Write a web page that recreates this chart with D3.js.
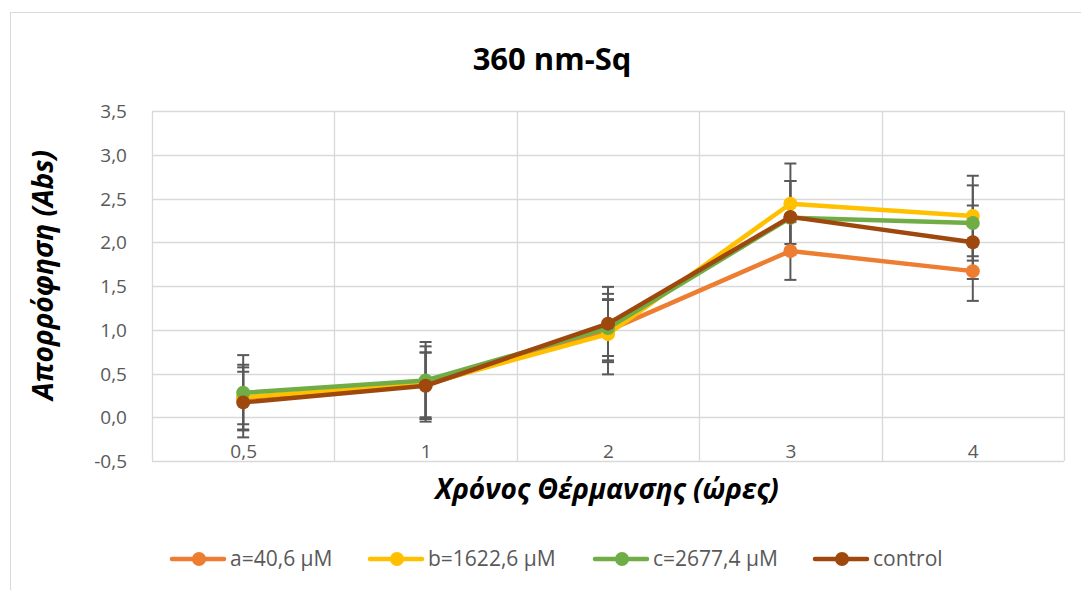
<!DOCTYPE html>
<html>
<head>
<meta charset="utf-8">
<title>360 nm-Sq</title>
<script src="https://d3js.org/d3.v7.min.js"></script>
<style>
 body { margin: 0; background: white; font-family: "Open Sans", sans-serif; }
 svg text { fill: #595959; }
</style>
</head>
<body>
<script>
// categories (heating time, hours) and tick labels
var categories = ["0,5", "1", "2", "3", "4"];
var yTicks = [-0.5, 0, 0.5, 1, 1.5, 2, 2.5, 3, 3.5];

// series values (absorbance) and error bar half-widths
var seriesNames = ["a=40,6 μM", "b=1622,6 μM", "c=2677,4 μM", "control"];
var seriesColors = ["#ED7D31", "#FFC000", "#70AD47", "#9E480E"];
var valuesA = [0.22, 0.37, 0.99, 1.90, 1.67];
var valuesB = [0.23, 0.38, 0.95, 2.44, 2.30];
var valuesC = [0.28, 0.42, 1.02, 2.28, 2.22];
var valuesCtrl = [0.17, 0.36, 1.07, 2.29, 2.00];
var errA = [0.30, 0.37, 0.36, 0.33, 0.34];
var errB = [0.37, 0.43, 0.46, 0.46, 0.46];
var errC = [0.43, 0.44, 0.32, 0.42, 0.43];
var errCtrl = [0.40, 0.38, 0.42, 0.41, 0.42];

var allValues = [valuesA, valuesB, valuesC, valuesCtrl];
var allErrors = [errA, errB, errC, errCtrl];

var width = 1081, height = 590;
var plot = { left: 152, right: 1064, top: 111, bottom: 461 };

var svg = d3.select("body").append("svg")
  .attr("width", width)
  .attr("height", height);

// outer chart border
svg.append("rect")
  .attr("x", 10.5).attr("y", 12.5)
  .attr("width", 1080).attr("height", 600)
  .attr("fill", "white")
  .attr("stroke", "#d9d9d9");

var x = d3.scalePoint().domain(categories).range([plot.left, plot.right]).padding(0.5);
var y = d3.scaleLinear().domain([-0.5, 3.5]).range([plot.bottom, plot.top]);
var fmt = function(v) { return d3.format(".1f")(v).replace(".", ",").replace("\u2212", "-"); };

// gridlines
var grid = svg.append("g");
grid.selectAll("line.h")
  .data(yTicks)
  .enter().append("line")
  .attr("x1", plot.left).attr("x2", plot.right)
  .attr("y1", function(d) { return Math.round(y(d)) + 0.5; })
  .attr("y2", function(d) { return Math.round(y(d)) + 0.5; })
  .attr("stroke", "#d9d9d9").attr("stroke-width", 1.3);
var bounds = [plot.left].concat(categories.map(function(c) { return x(c) + x.step() / 2; }));
grid.selectAll("line.v")
  .data(bounds)
  .enter().append("line")
  .attr("y1", plot.top).attr("y2", plot.bottom)
  .attr("x1", function(d) { return Math.round(d) + 0.5; })
  .attr("x2", function(d) { return Math.round(d) + 0.5; })
  .attr("stroke", "#d9d9d9").attr("stroke-width", 1.3);

// y axis labels
var yAxis = svg.append("g")
  .attr("transform", "translate(" + (plot.left - 22) + ",0)")
  .call(d3.axisLeft(y).tickValues(yTicks).tickSize(0).tickFormat(fmt));
yAxis.select(".domain").remove();
yAxis.selectAll("text")
  .attr("font-family", "Open Sans").attr("font-size", 19).attr("fill", "#595959").attr("dy", "0.35em");

// x axis labels
var xAxis = svg.append("g")
  .attr("transform", "translate(0," + (plot.bottom - 20) + ")")
  .call(d3.axisBottom(x).tickSize(0));
xAxis.select(".domain").remove();
xAxis.selectAll("text")
  .attr("font-family", "Open Sans").attr("font-size", 19).attr("fill", "#595959");

// error bars
var ebars = svg.append("g");
allValues.forEach(function(vals, s) {
  var g = ebars.append("g");
  var rows = categories.map(function(c, i) { return { c: c, v: vals[i], e: allErrors[s][i] }; });
  g.selectAll("line.stem").data(rows).enter().append("line")
    .attr("x1", function(d) { return x(d.c); }).attr("x2", function(d) { return x(d.c); })
    .attr("y1", function(d) { return y(d.v - d.e); }).attr("y2", function(d) { return y(d.v + d.e); })
    .attr("stroke", "#595959").attr("stroke-width", 2);
  [-1, 1].forEach(function(sign) {
    g.selectAll("line.cap" + sign).data(rows).enter().append("line")
      .attr("x1", function(d) { return x(d.c) - 6; }).attr("x2", function(d) { return x(d.c) + 6; })
      .attr("y1", function(d) { return y(d.v + sign * d.e); }).attr("y2", function(d) { return y(d.v + sign * d.e); })
      .attr("stroke", "#595959").attr("stroke-width", 2);
  });
});

// lines and markers
var line = d3.line()
  .x(function(d, i) { return x(categories[i]); })
  .y(function(d) { return y(d); });
allValues.forEach(function(vals, s) {
  var g = svg.append("g");
  g.append("path")
    .datum(vals)
    .attr("d", line)
    .attr("fill", "none")
    .attr("stroke", seriesColors[s])
    .attr("stroke-width", 4.5)
    .attr("stroke-linejoin", "round")
    .attr("stroke-linecap", "round");
  g.selectAll("circle").data(vals).enter().append("circle")
    .attr("cx", function(d, i) { return x(categories[i]); })
    .attr("cy", function(d) { return y(d); })
    .attr("r", 7)
    .attr("fill", seriesColors[s]);
});

// title
svg.append("text")
  .attr("x", 552).attr("y", 70)
  .attr("text-anchor", "middle")
  .attr("font-family", "Open Sans").attr("font-weight", "bold").attr("font-size", 31)
  .style("fill", "#000")
  .text("360 nm-Sq");

// axis titles
svg.append("text")
  .attr("transform", "translate(53,275) rotate(-90)")
  .attr("text-anchor", "middle")
  .attr("font-family", "Open Sans").attr("font-weight", "bold").attr("font-style", "italic").attr("font-size", 28)
  .style("fill", "#000")
  .text("Απορρόφηση (Abs)");
svg.append("text")
  .attr("x", 607).attr("y", 499)
  .attr("text-anchor", "middle")
  .attr("font-family", "Open Sans").attr("font-weight", "bold").attr("font-style", "italic").attr("font-size", 28)
  .style("fill", "#000")
  .text("Χρόνος Θέρμανσης (ώρες)");

// legend
var legendX = [172, 370, 595, 815];
var legend = svg.append("g").attr("transform", "translate(0,559)");
seriesNames.forEach(function(name, s) {
  var item = legend.append("g").attr("transform", "translate(" + legendX[s] + ",0)");
  item.append("line").attr("x1", 0).attr("x2", 52).attr("y1", 0).attr("y2", 0)
    .attr("stroke", seriesColors[s]).attr("stroke-width", 4.5).attr("stroke-linecap", "round");
  item.append("circle").attr("cx", 27).attr("cy", 0).attr("r", 7).attr("fill", seriesColors[s]);
  item.append("text").attr("x", 58).attr("y", 0).attr("dy", "0.35em")
    .attr("font-family", "Open Sans").attr("font-size", 21).attr("fill", "#595959")
    .text(name);
});
</script>
</body>
</html>
